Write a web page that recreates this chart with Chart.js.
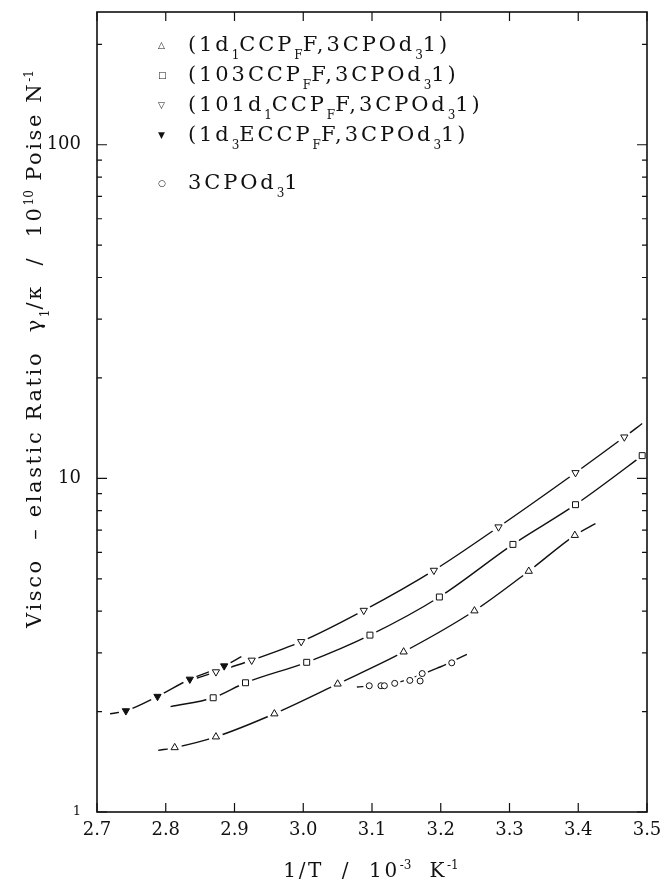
<!DOCTYPE html>
<html>
<head>
<meta charset="utf-8">
<script src="https://cdn.jsdelivr.net/npm/chart.js@4"></script>
<style>
  body { margin: 0; background: #fff; }
  #wrap { position: relative; width: 662px; height: 888px; font-family: "DejaVu Serif", serif; color: #111; }
  #chart { position: absolute; left: 0; top: 0; }
  .leg { position: absolute; left: 150px; font-size: 21px; letter-spacing: 2.9px; white-space: nowrap; line-height: 22px; }
  .leg .mk { display: inline-block; width: 38px; font-family: "DejaVu Sans", sans-serif; font-size: 9px; letter-spacing: 0; text-align: left; padding-left: 8px; box-sizing: border-box; vertical-align: 3px; }
  sub { font-size: 12px; position: relative; top: 3px; letter-spacing: 0; }
  sup { font-size: 12px; letter-spacing: 0; }
  #ytitle { position: absolute; left: -321px; top: 337px; width: 700px; height: 24px; line-height: 24px; text-align: center;
            transform: rotate(-90deg); font-size: 21px; letter-spacing: 2.6px; white-space: nowrap; }
  #xtitle { position: absolute; left: 171px; top: 858px; width: 400px; text-align: center; font-size: 20px; letter-spacing: 2.6px; white-space: nowrap; }
</style>
</head>
<body>
<div id="wrap">
  <canvas id="chart" width="662" height="888"></canvas>
  <div id="legend"></div>
  <div id="ytitle">Visco &nbsp;&ndash; elastic Ratio &nbsp;&gamma;<sub>1</sub>/&kappa; &nbsp;/&nbsp; 10<sup>10</sup> Poise N<sup>-1</sup></div>
  <div id="xtitle">1/T &nbsp;/&nbsp; 10<sup>-3</sup> &nbsp;K<sup>-1</sup></div>
</div>
<script>
// axis ticks
const xTicks = [2.7, 2.8, 2.9, 3.0, 3.1, 3.2, 3.3, 3.4, 3.5];
const yTickLabels = [1, 10, 100];
const yMinor = [2, 3, 4, 5, 6, 7, 8, 9, 20, 30, 40, 50, 60, 70, 80, 90, 200];

// (1d1CCPFF,3CPOd31)  - open triangles
const triX = [2.813, 2.873, 2.958, 3.050, 3.146, 3.249, 3.328, 3.395];
const triY = [1.56, 1.68, 1.97, 2.42, 3.02, 4.01, 5.27, 6.75];
const triStart = [2.789, 1.53], triEnd = [3.425, 7.32];

// (103CCPFF,3CPOd31) - open squares
const sqX = [2.869, 2.916, 3.005, 3.097, 3.198, 3.305, 3.396, 3.493];
const sqY = [2.20, 2.44, 2.81, 3.39, 4.41, 6.34, 8.34, 11.7];
const sqStart = [2.807, 2.07], sqEnd = [3.50, 12.0];

// (101d1CCPFF,3CPOd31) - open down triangles
const dtriX = [2.873, 2.925, 2.997, 3.088, 3.190, 3.284, 3.396, 3.467];
const dtriY = [2.63, 2.85, 3.24, 4.02, 5.30, 7.15, 10.4, 13.3];
const dtriStart = [2.84, 2.50], dtriEnd = [3.493, 14.6];

// (1d3ECCPFF,3CPOd31) - filled down triangles
const fdtriX = [2.742, 2.788, 2.835, 2.885];
const fdtriY = [2.01, 2.22, 2.50, 2.74];
const fdtriStart = [2.719, 1.97], fdtriEnd = [2.91, 2.92];

// 3CPOd31 - small circles, with its fitted line read separately
const circX = [3.096, 3.113, 3.118, 3.133, 3.155, 3.170, 3.173, 3.216];
const circY = [2.39, 2.39, 2.39, 2.43, 2.48, 2.47, 2.60, 2.80];
const circLineX = [3.078, 3.133, 3.199, 3.238];
const circLineY = [2.37, 2.43, 2.72, 2.97];

const seriesLabels = [
    '(1d<sub>1</sub>CCP<sub>F</sub>F,3CPOd<sub>3</sub>1)',
    '(103CCP<sub>F</sub>F,3CPOd<sub>3</sub>1)',
    '(101d<sub>1</sub>CCP<sub>F</sub>F,3CPOd<sub>3</sub>1)',
    '(1d<sub>3</sub>ECCP<sub>F</sub>F,3CPOd<sub>3</sub>1)',
    '3CPOd<sub>3</sub>1'
];
const legendMarks = ['&#9651;', '&#9633;', '&#9661;', '&#9660;', '&#9675;'];
const legendTops = [33, 63, 93, 123, 171];

const pts = (xs, ys) => xs.map((x, i) => ({ x, y: ys[i] }));
const curve = (s, xs, ys, e) => [{ x: s[0], y: s[1] }, ...pts(xs, ys), { x: e[0], y: e[1] }];

const series = [
    { xs: triX, ys: triY, line: curve(triStart, triX, triY, triEnd), style: 'triangle', rot: 0, r: 4.2, fill: '#fff' },
    { xs: sqX, ys: sqY, line: curve(sqStart, sqX, sqY, sqEnd), style: 'rect', rot: 0, r: 4.2, fill: '#fff' },
    { xs: dtriX, ys: dtriY, line: curve(dtriStart, dtriX, dtriY, dtriEnd), style: 'triangle', rot: 180, r: 4.2, fill: '#fff' },
    { xs: fdtriX, ys: fdtriY, line: curve(fdtriStart, fdtriX, fdtriY, fdtriEnd), style: 'triangle', rot: 180, r: 4.2, fill: '#111' },
    { xs: circX, ys: circY, line: pts(circLineX, circLineY), style: 'circle', rot: 0, r: 3, fill: '#fff' }
];

const datasets = [];
series.forEach(sr => {
    datasets.push({ data: sr.line, showLine: true, pointRadius: 0, borderColor: '#111', borderWidth: 1.4, cubicInterpolationMode: 'monotone', order: 3 });
    datasets.push({ data: pts(sr.xs, sr.ys), showLine: false, pointRadius: sr.r + 3, pointStyle: 'circle', pointBackgroundColor: '#fff', pointBorderWidth: 0, order: 2 });
    datasets.push({ data: pts(sr.xs, sr.ys), showLine: false, pointRadius: sr.r, pointStyle: sr.style, rotation: sr.rot, pointBackgroundColor: sr.fill, pointBorderColor: '#111', pointBorderWidth: 1, order: 1 });
});

document.getElementById('legend').innerHTML = seriesLabels.map((l, i) =>
    `<div class="leg" style="top:${legendTops[i]}px"><span class="mk">${legendMarks[i]}</span>${l}</div>`).join('');

// frame with inward ticks on all four sides
const frame = {
    id: 'frame',
    afterDraw(chart) {
        const { ctx, chartArea: a, scales: { x, y } } = chart;
        ctx.save();
        ctx.strokeStyle = '#111';
        ctx.lineWidth = 1.6;
        ctx.strokeRect(a.left, a.top, a.right - a.left, a.bottom - a.top);
        ctx.lineWidth = 1.2;
        ctx.beginPath();
        xTicks.forEach(v => {
            const px = x.getPixelForValue(v);
            ctx.moveTo(px, a.bottom); ctx.lineTo(px, a.bottom - 9);
            ctx.moveTo(px, a.top); ctx.lineTo(px, a.top + 9);
        });
        const yt = (v, len) => {
            const py = y.getPixelForValue(v);
            ctx.moveTo(a.left, py); ctx.lineTo(a.left + len, py);
            ctx.moveTo(a.right, py); ctx.lineTo(a.right - len, py);
        };
        yTickLabels.forEach(v => yt(v, 10));
        yMinor.forEach(v => yt(v, 5));
        ctx.stroke();
        ctx.restore();
    }
};

new Chart(document.getElementById('chart'), {
    type: 'scatter',
    data: { datasets },
    plugins: [frame],
    options: {
        responsive: false,
        animation: false,
        devicePixelRatio: 1,
        layout: { padding: { top: 12, right: 15, left: 0, bottom: 0 } },
        plugins: { legend: { display: false }, tooltip: { enabled: false } },
        scales: {
            x: {
                type: 'linear', min: 2.7, max: 3.5,
                afterFit: s => { s.height = 76; s.paddingLeft = 0; s.paddingRight = 0; },
                afterBuildTicks: s => { s.ticks = xTicks.map(v => ({ value: v })); },
                grid: { display: false, drawTicks: false },
                border: { display: false },
                ticks: { padding: 8, color: '#111', font: { family: 'DejaVu Serif', size: 18 }, callback: v => v.toFixed(1) }
            },
            y: {
                type: 'logarithmic', min: 1, max: 250,
                afterFit: s => { s.width = 97; s.paddingTop = 0; s.paddingBottom = 0; },
                afterBuildTicks: s => { s.ticks = yTickLabels.map(v => ({ value: v })); },
                grid: { display: false, drawTicks: false },
                border: { display: false },
                ticks: {
                    padding: 16, color: '#111',
                    font: ctx => ({ family: 'DejaVu Serif', size: ctx.tick && ctx.tick.value === 1 ? 13 : 18 }),
                    callback: v => String(v)
                }
            }
        }
    }
});
</script>
</body>
</html>
